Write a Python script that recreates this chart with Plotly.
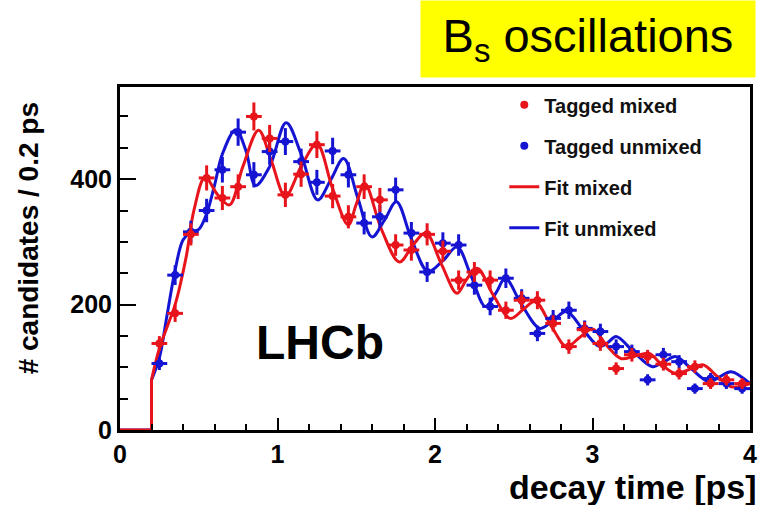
import plotly.graph_objects as go

# ---- data ----
t_bins = [0.25, 0.35, 0.45, 0.55, 0.65, 0.75, 0.85, 0.95, 1.05, 1.15,
          1.25, 1.35, 1.45, 1.55, 1.65, 1.75, 1.85, 1.95, 2.05, 2.15,
          2.25, 2.35, 2.45, 2.55, 2.65, 2.75, 2.85, 2.95, 3.05, 3.15,
          3.25, 3.35, 3.45, 3.55, 3.65, 3.75, 3.85, 3.95]
mixed_counts = [138, 186, 312, 402, 370, 388, 500, 465, 375, 408,
                455, 373, 340, 388, 367, 295, 287, 312, 285, 239,
                252, 239, 191, 207, 207, 170, 133, 160, 138, 98,
                120, 117, 105, 90, 101, 74, 80, 74]
unmixed_counts = [106, 247, 316, 350, 415, 475, 407, 444, 460, 428,
                  395, 445, 407, 330, 340, 383, 314, 252, 298, 295,
                  231, 197, 242, 210, 154, 178, 191, 162, 157, 133,
                  125, 80, 120, 109, 66, 82, 74, 66]

# fit curves: step part (acceptance turn-on) and smooth part
step_t = [0.0, 0.2, 0.2]
step_y = [0, 0, 80]
fit_mixed_t = [0.2, 0.25, 0.30, 0.35, 0.42, 0.47, 0.54, 0.62, 0.695, 0.78,
               0.88, 0.96, 1.05, 1.15, 1.25, 1.35, 1.449, 1.50, 1.554, 1.66,
               1.774, 1.86, 1.942, 2.04, 2.14, 2.20, 2.268, 2.37, 2.478, 2.56,
               2.635, 2.74, 2.835, 2.92, 3.00, 3.09, 3.18, 3.27, 3.36, 3.44,
               3.53, 3.62, 3.70, 3.79, 3.88, 4.0]
fit_mixed_y = [80, 130, 165, 200, 276, 351, 403, 375, 359, 420,
               478, 430, 373, 420, 456, 385, 327, 360, 393, 320,
               268, 295, 314, 265, 218, 240, 258, 215, 178, 192,
               205, 165, 133, 148, 161, 135, 114, 118, 122, 104,
               90, 97, 104, 86, 69, 74]
fit_unmixed_t = [0.2, 0.25, 0.30, 0.35, 0.40, 0.45, 0.50, 0.55, 0.60, 0.65,
                 0.735, 0.80, 0.86, 0.95, 1.055, 1.15, 1.255, 1.34, 1.42, 1.51,
                 1.60, 1.68, 1.755, 1.85, 1.955, 2.05, 2.14, 2.23, 2.32, 2.39,
                 2.446, 2.55, 2.667, 2.75, 2.835, 2.94, 3.045, 3.10, 3.15, 3.26,
                 3.38, 3.455, 3.53, 3.63, 3.74, 3.81, 3.88, 4.0]
fit_unmixed_y = [80, 115, 185, 255, 303, 316, 320, 345, 390, 440,
                 479, 445, 390, 420, 490, 440, 367, 400, 433, 370,
                 308, 335, 364, 305, 253, 270, 292, 245, 197, 220,
                 242, 200, 162, 175, 189, 160, 133, 140, 149, 125,
                 101, 109, 117, 97, 77, 85, 93, 74]

x_ticks = [0, 1, 2, 3, 4]
y_ticks = [0, 200, 400]

RED = "#e8141c"
BLUE = "#1414d2"
FONT = "Liberation Sans, Arial, sans-serif"

fig = go.Figure()

# fits
fig.add_trace(go.Scatter(x=step_t, y=step_y, mode="lines", line=dict(color=BLUE, width=3),
                         showlegend=False, hoverinfo="skip"))
fig.add_trace(go.Scatter(x=fit_unmixed_t, y=fit_unmixed_y, mode="lines", name="Fit unmixed",
                         line=dict(color=BLUE, width=3, shape="spline", smoothing=1.0),
                         legendgroup="d", legendrank=4))
fig.add_trace(go.Scatter(x=step_t, y=step_y, mode="lines", line=dict(color=RED, width=3),
                         showlegend=False, hoverinfo="skip"))
fig.add_trace(go.Scatter(x=fit_mixed_t, y=fit_mixed_y, mode="lines", name="Fit mixed",
                         line=dict(color=RED, width=3, shape="spline", smoothing=1.0),
                         legendgroup="c", legendrank=3))

# data points
fig.add_trace(go.Scatter(x=t_bins, y=unmixed_counts, mode="markers", name="Tagged unmixed",
                         marker=dict(color=BLUE, size=8),
                         error_y=dict(type="sqrt", color=BLUE, thickness=3, width=0),
                         error_x=dict(type="constant", value=0.05, color=BLUE, thickness=3, width=0),
                         legendgroup="b", legendrank=2))
fig.add_trace(go.Scatter(x=t_bins, y=mixed_counts, mode="markers", name="Tagged mixed",
                         marker=dict(color=RED, size=8),
                         error_y=dict(type="sqrt", color=RED, thickness=3, width=0),
                         error_x=dict(type="constant", value=0.05, color=RED, thickness=3, width=0),
                         legendgroup="a", legendrank=1))

axis_common = dict(showline=True, linecolor="black", linewidth=3, mirror=True,
                   showgrid=False, zeroline=False, ticks="inside", tickcolor="black",
                   tickwidth=1.5,
                   tickfont=dict(family=FONT, size=25, color="black", weight="bold"))

fig.update_xaxes(range=[0, 4], tickvals=x_ticks, ticklen=12,
                 minor=dict(dtick=0.2, ticks="inside", ticklen=6, tickcolor="black", tickwidth=1.5),
                 **axis_common)
fig.update_yaxes(range=[0, 547], tickvals=y_ticks, ticklen=16,
                 minor=dict(dtick=50, ticks="inside", ticklen=8, tickcolor="black", tickwidth=1.5),
                 **axis_common)

fig.update_layout(
    width=769, height=505,
    margin=dict(l=120, r=14, t=87, b=75),
    paper_bgcolor="white", plot_bgcolor="white",
    font=dict(family=FONT, color="black"),
    legend=dict(x=0.61, y=1.005, xanchor="left", yanchor="top",
                bgcolor="rgba(0,0,0,0)", tracegroupgap=12,
                font=dict(family=FONT, size=20, color="#111", weight="bold")),
    annotations=[
        dict(text="B<sub>s</sub> oscillations", xref="paper", yref="paper",
             x=1.0, y=1.0, xanchor="right", yanchor="bottom", yshift=9, xshift=6,
             showarrow=False, bgcolor="#ffff00", width=332, height=74,
             font=dict(family=FONT, size=47, color="black")),
        dict(text="LHCb", xref="x", yref="y", x=1.27, y=140, showarrow=False,
             font=dict(family=FONT, size=48, color="black", weight="bold")),
        dict(text="decay time [ps]", xref="paper", yref="paper", x=1.0, y=-0.165,
             xanchor="right", yanchor="middle", showarrow=False, xshift=9,
             font=dict(family=FONT, size=34, color="black", weight="bold")),
        dict(text="# candidates / 0.2 ps", xref="paper", yref="paper", x=-0.145, y=0.96,
             xanchor="center", yanchor="top", textangle=-90, showarrow=False,
             font=dict(family=FONT, size=28, color="black", weight="bold")),
    ],
)

fig.write_html("out.html")
